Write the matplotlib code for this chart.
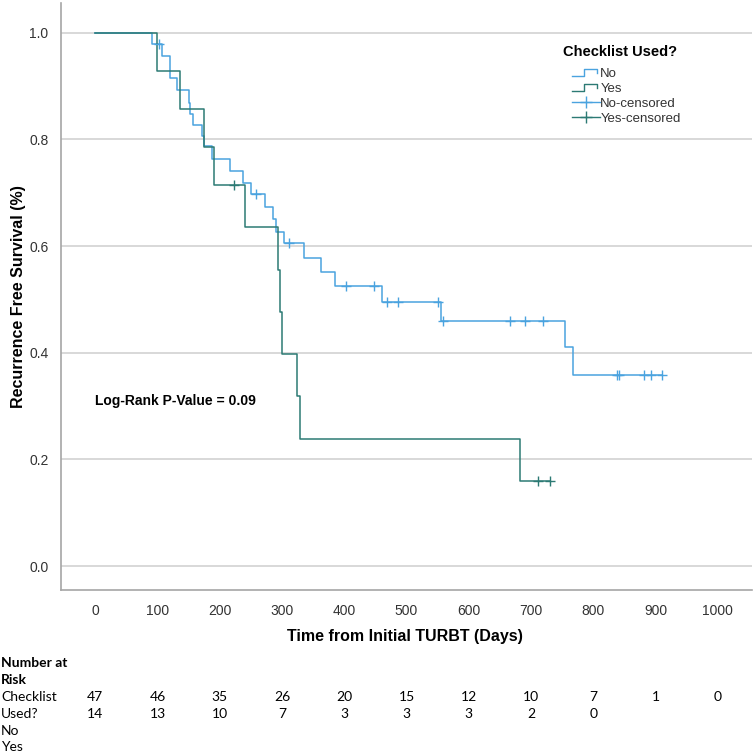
import matplotlib
matplotlib.use("Agg")
import matplotlib.pyplot as plt
from matplotlib.legend_handler import HandlerBase
from matplotlib.lines import Line2D
import matplotlib.transforms as mtransforms

# Kaplan-Meier steps: day of step, survival after the step
no_days = [0, 91, 107, 120, 132, 150, 153, 157, 171, 175, 187, 217, 238, 251,
           273, 286, 290, 303, 335, 363, 385, 461, 556, 754, 768, 910]
no_surv = [1.0, 0.979, 0.957, 0.915, 0.892, 0.868, 0.848, 0.827, 0.806, 0.787,
           0.763, 0.740, 0.719, 0.697, 0.674, 0.650, 0.627, 0.605, 0.577, 0.552,
           0.525, 0.496, 0.460, 0.410, 0.358, 0.358]
no_cens_days = [103, 258, 312, 403, 448, 468, 486, 550, 558, 667, 691, 720,
                838, 841, 882, 893, 910]
no_cens_surv = [0.979, 0.697, 0.605, 0.525, 0.525, 0.496, 0.496, 0.496, 0.460,
                0.460, 0.460, 0.460, 0.358, 0.358, 0.358, 0.358, 0.358]

yes_days = [0, 99, 136, 175, 190, 240, 294, 297, 300, 324, 329, 682, 730]
yes_surv = [1.0, 0.929, 0.857, 0.786, 0.714, 0.635, 0.556, 0.476, 0.397, 0.318,
            0.238, 0.159, 0.159]
yes_cens_days = [223, 711, 730]
yes_cens_surv = [0.714, 0.159, 0.159]

# number at risk table
risk_days = [0, 100, 200, 300, 400, 500, 600, 700, 800, 900, 1000]
risk_no = [47, 46, 35, 26, 20, 15, 12, 10, 7, 1, 0]
risk_yes = [14, 13, 10, 7, 3, 3, 3, 2, 0]

x_ticks = [0, 100, 200, 300, 400, 500, 600, 700, 800, 900, 1000]
y_ticks = [0.0, 0.2, 0.4, 0.6, 0.8, 1.0]

no_color = "#4AA3DF"
yes_color = "#2C7A74"
W = 753.0
arial = ["Liberation Sans", "DejaVu Sans"]


class StepHandler(HandlerBase):
    def create_artists(self, legend, orig_handle, xdescent, ydescent,
                       width, height, fontsize, trans):
        xs = [0, width * 0.45, width * 0.45, width * 0.9, width * 0.9]
        ys = [height * 0.15, height * 0.15, height * 0.85, height * 0.85, height * 0.45]
        ln = Line2D(xs, ys, color=orig_handle.get_color(), lw=1.0, transform=trans)
        return [ln]


fig = plt.figure(figsize=(7.53, 7.53), dpi=100)
ax = fig.add_axes([61 / W, 1 - 590 / W, (752 - 61) / W, (590 - 3) / W])

line_no, = ax.step(no_days, no_surv, where="post", color=no_color, lw=1.1)
line_yes, = ax.step(yes_days, yes_surv, where="post", color=yes_color, lw=1.1)
ax.plot(no_cens_days, no_cens_surv, ls="none", marker="+",
        ms=7, mew=1.0, color=no_color)
ax.plot(yes_cens_days, yes_cens_surv, ls="none", marker="+",
        ms=7, mew=1.0, color=yes_color)

ax.set_xlim(-55, 1055)
ax.set_ylim(-0.045, 1.056)
ax.set_xticks(x_ticks)
ax.set_yticks(y_ticks)
ax.set_yticklabels([f"{v:.1f}" for v in y_ticks])
ax.yaxis.grid(True, color="#D2D2D2", lw=1.2)
ax.set_axisbelow(True)
for s in ["top", "right"]:
    ax.spines[s].set_visible(False)
for s in ["left", "bottom"]:
    ax.spines[s].set_color("#A6A6A6")
    ax.spines[s].set_linewidth(1.2)
ax.tick_params(axis="both", length=0, labelsize=10, labelcolor="#333333")
ax.tick_params(axis="x", pad=10)
ax.tick_params(axis="y", pad=9)
for lab in ax.get_xticklabels() + ax.get_yticklabels():
    lab.set_family(arial)

ax.set_ylabel("Recurrence Free Survival (%)", fontsize=11.5, fontweight="bold",
              family=arial)
ax.yaxis.set_label_coords(-(61 - 26) / (752 - 61), 0.5)
fig.text(405 / W, 1 - 636 / W, "Time from Initial TURBT (Days)", fontsize=11.5,
         fontweight="bold", family=arial, ha="center", va="center")

ax.text(0, 0.31, "Log-Rank P-Value = 0.09", fontsize=10, fontweight="bold",
        family=arial, ha="left", va="center")

# legend: title placed by hand, entries indented under it
fig.text(563 / W, 1 - 52 / W, "Checklist Used?", fontsize=10.5,
         fontweight="bold", family=arial, ha="left", va="center")
cens_no_h = Line2D([], [], color=no_color, lw=1.0, marker="+", ms=9, mew=1.0)
cens_yes_h = Line2D([], [], color=yes_color, lw=1.0, marker="+", ms=9, mew=1.0)
leg = ax.legend([line_no, line_yes, cens_no_h, cens_yes_h],
                ["No", "Yes", "No-censored", "Yes-censored"],
                handler_map={line_no: StepHandler(), line_yes: StepHandler()},
                frameon=False, loc="upper left", numpoints=1,
                bbox_to_anchor=(572 / W, 1 - 68 / W),
                bbox_transform=fig.transFigure,
                handlelength=2.1, handletextpad=0.05, labelspacing=0.2,
                borderaxespad=0, borderpad=0,
                prop={"family": arial, "size": 9.5})
for t in leg.get_texts():
    t.set_color("#333333")

# number at risk table
tab_font = ["Lato", "DejaVu Sans"]
row_y = [663, 680, 697, 714, 731, 747]
row_labels = ["Number at", "Risk", "Checklist", "Used?", "No", "Yes"]
for i, (lab, yy) in enumerate(zip(row_labels, row_y)):
    fig.text(1 / W, 1 - yy / W, lab, fontsize=10, family=tab_font,
             fontweight="bold" if i < 2 else "normal", ha="left", va="center")

blend = mtransforms.blended_transform_factory(ax.transData, fig.transFigure)
for d, n in zip(risk_days, risk_no):
    ax.text(d, 1 - row_y[2] / W, str(n), transform=blend, fontsize=10,
            family=tab_font, ha="center", va="center", clip_on=False)
for d, n in zip(risk_days, risk_yes):
    ax.text(d, 1 - row_y[3] / W, str(n), transform=blend, fontsize=10,
            family=tab_font, ha="center", va="center", clip_on=False)

fig.savefig("out.png", dpi=100)
